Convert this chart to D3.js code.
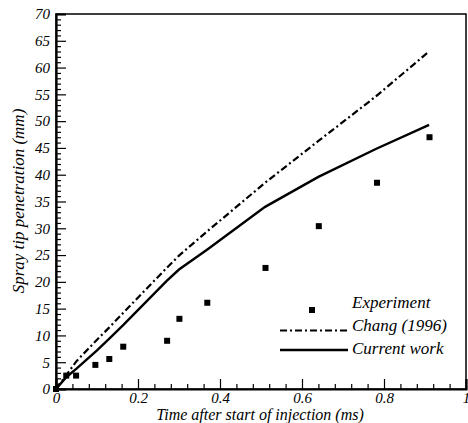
<!DOCTYPE html>
<html lang="en">
<head>
<meta charset="UTF-8">
<script src="https://cdn.jsdelivr.net/npm/d3@7"></script>
<title>Spray tip penetration</title>
<style>
  body { margin: 0; background: #fff; }
</style>
</head>
<body>
<div id="viz"></div>
<script>
// experiment (symbols)
const expTime = [0, 0.025, 0.049, 0.096, 0.13, 0.164, 0.271, 0.301, 0.369, 0.511, 0.641, 0.783, 0.911]
const expPen = [0, 2.5, 2.5, 4.5, 5.6, 7.9, 9.0, 13.1, 16.1, 22.6, 30.4, 38.5, 47.0]

// Chang (1996) - dash dot
const changTime = [0, 0.025, 0.05, 0.1, 0.13, 0.165, 0.27, 0.3, 0.37, 0.51, 0.64, 0.78, 0.905]
const changPen = [0, 2.6, 5.2, 9.2, 11.5, 14.3, 22.6, 24.9, 29.5, 38.5, 46.3, 54.6, 62.7]

// current work - solid
const curTime = [0, 0.025, 0.05, 0.1, 0.13, 0.165, 0.27, 0.3, 0.37, 0.51, 0.64, 0.78, 0.91]
const curPen = [0, 2.2, 3.8, 7.2, 9.4, 12.0, 20.2, 22.3, 26.1, 34.0, 39.6, 44.8, 49.3]

const xTicks = [0, 0.2, 0.4, 0.6, 0.8, 1]
const yTicks = [0, 5, 10, 15, 20, 25, 30, 35, 40, 45, 50, 55, 60, 65, 70]
const legendNames = ["Experiment", "Chang (1996)", "Current work"]

const serif = "Liberation Serif"

const fullWidth = 468
const fullHeight = 423
const margins = { top: 14, right: 2, bottom: 34, left: 56 }
const width = fullWidth - margins.left - margins.right
const height = fullHeight - margins.top - margins.bottom

const svg = d3.select("#viz")
    .append("svg")
    .attr("width", fullWidth)
    .attr("height", fullHeight)

const g = svg.append("g")
    .attr("transform", `translate(${margins.left},${margins.top})`)

const x = d3.scaleLinear().domain([0, 1]).range([0, width])
const y = d3.scaleLinear().domain([0, 70]).range([height, 0])

// frame (top and right thinner)
g.append("rect")
    .attr("x", 0).attr("y", 0)
    .attr("width", width).attr("height", height)
    .attr("fill", "none").attr("stroke", "#000").attr("stroke-width", 1.5)

// minor ticks
const xMinor = d3.range(0, 1.001, 0.04).filter(v => Math.abs(v * 5 - Math.round(v * 5)) > 1e-6)
const yMinor = d3.range(0, 71, 1).filter(v => v % 5 !== 0)

g.append("g")
    .attr("transform", `translate(0,${height})`)
    .call(d3.axisBottom(x).tickValues(xMinor).tickSize(-5).tickFormat(""))
    .call(a => a.select(".domain").remove())
g.append("g")
    .call(d3.axisLeft(y).tickValues(yMinor).tickSize(-5).tickFormat(""))
    .call(a => a.select(".domain").remove())

// major ticks + labels
const xAxis = g.append("g")
    .attr("transform", `translate(0,${height})`)
    .call(d3.axisBottom(x).tickValues(xTicks).tickSize(-10).tickPadding(3)
        .tickFormat(d => d === 0 ? "0" : d === 1 ? "1" : d3.format(".1f")(d)))
xAxis.attr("font-family", serif).attr("font-style", "italic").attr("font-size", 15)
xAxis.select(".domain").attr("stroke-width", 2.2)

const yAxis = g.append("g")
    .call(d3.axisLeft(y).tickValues(yTicks).tickSize(-10).tickPadding(6))
yAxis.attr("font-family", serif).attr("font-style", "italic").attr("font-size", 15)
yAxis.select(".domain").attr("stroke-width", 2.2)
g.selectAll(".tick line").attr("stroke-width", 1.2)

const line = d3.line().x(d => x(d[0])).y(d => y(d[1]))

g.append("path")
    .datum(d3.zip(changTime, changPen))
    .attr("d", line)
    .attr("fill", "none").attr("stroke", "#000").attr("stroke-width", 2.2)
    .attr("stroke-dasharray", "7,3,2,3")

g.append("path")
    .datum(d3.zip(curTime, curPen))
    .attr("d", line)
    .attr("fill", "none").attr("stroke", "#000").attr("stroke-width", 2.4)

const sq = 6
g.selectAll(".pt")
    .data(d3.zip(expTime, expPen))
    .enter()
    .append("rect")
    .attr("x", d => x(d[0]) - sq / 2)
    .attr("y", d => y(d[1]) - sq / 2)
    .attr("width", sq).attr("height", sq)
    .attr("fill", "#000")

// legend
const leg = svg.append("g")
    .attr("font-family", serif).attr("font-style", "italic")
leg.append("rect").attr("x", 309).attr("y", 307).attr("width", sq).attr("height", sq).attr("fill", "#000")
leg.append("line").attr("x1", 280).attr("x2", 348).attr("y1", 330.5).attr("y2", 330.5)
    .attr("stroke", "#000").attr("stroke-width", 2.2).attr("stroke-dasharray", "7,3,2,3")
leg.append("line").attr("x1", 280).attr("x2", 348).attr("y1", 350).attr("y2", 350)
    .attr("stroke", "#000").attr("stroke-width", 2.4)
leg.selectAll(".lt")
    .data(legendNames)
    .enter()
    .append("text")
    .attr("x", 352)
    .attr("y", (d, i) => 308 + i * 23)
    .attr("font-size", 17)
    .text(d => d)

// axis titles
svg.append("text")
    .attr("x", 260).attr("y", 420)
    .attr("text-anchor", "middle")
    .attr("font-family", serif).attr("font-style", "italic")
    .attr("font-size", 16)
    .text("Time after start of injection (ms)")

svg.append("text")
    .attr("transform", "translate(24,201) rotate(-90)")
    .attr("text-anchor", "middle")
    .attr("font-family", serif).attr("font-style", "italic")
    .attr("font-size", 17)
    .text("Spray tip penetration (mm)")
</script>
</body>
</html>
